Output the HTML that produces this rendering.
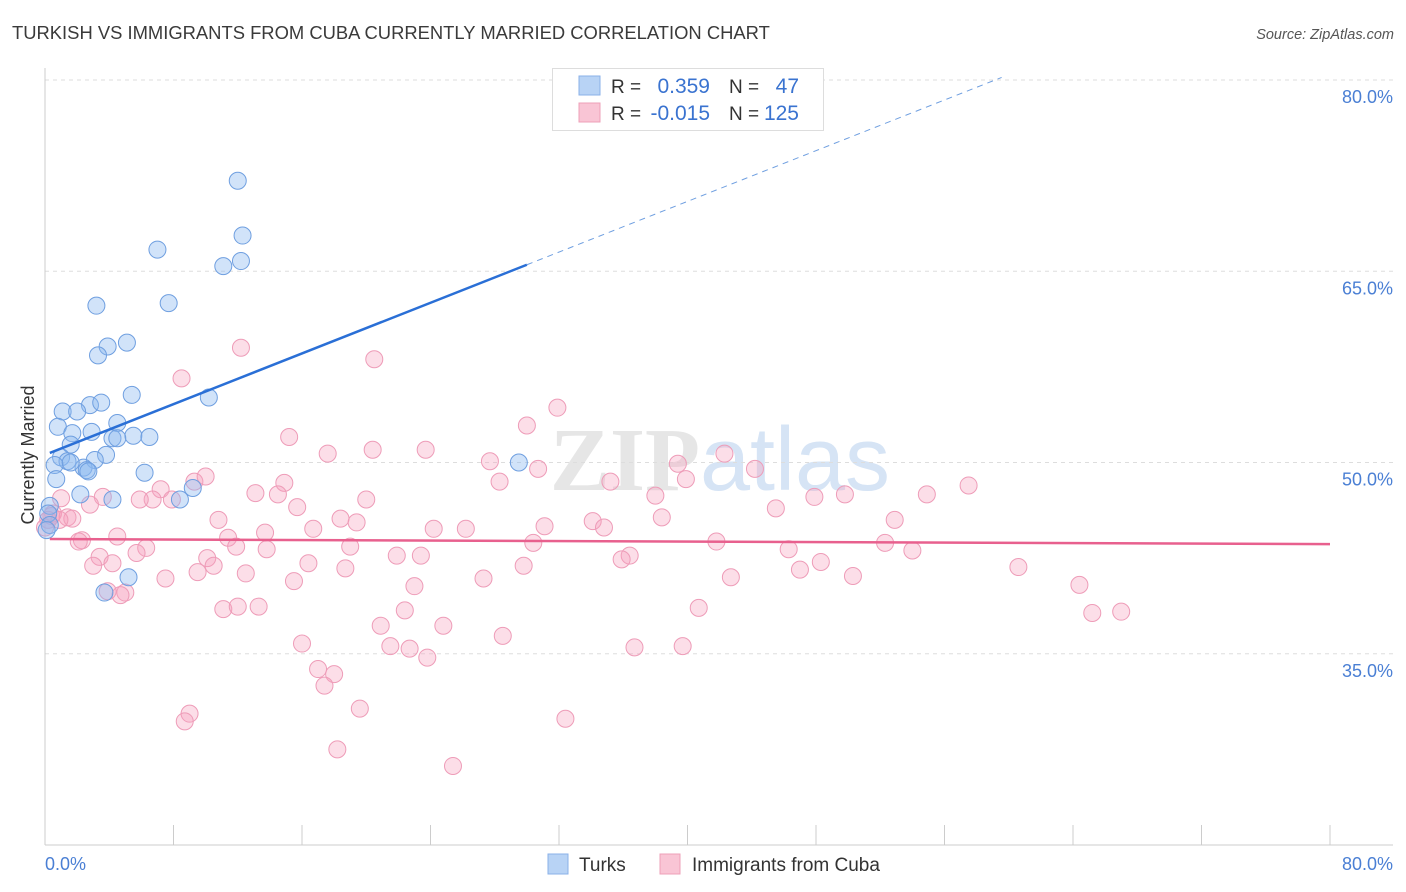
<!DOCTYPE html>
<html><head><meta charset="utf-8"><style>
body{margin:0;background:#fff;font-family:"Liberation Sans",sans-serif;}
svg{display:block}
</style></head><body>
<svg id="chart" width="1406" height="892" xmlns="http://www.w3.org/2000/svg">
<text x="12" y="39" font-size="18.4" fill="#3a3a3a">TURKISH VS IMMIGRANTS FROM CUBA CURRENTLY MARRIED CORRELATION CHART</text>
<text x="1394" y="39" font-size="14.5" fill="#555" font-style="italic" text-anchor="end">Source: ZipAtlas.com</text>
<text x="720" y="490" font-size="90" fill="#e6e6e6" text-anchor="middle" font-family="Liberation Serif,serif" font-weight="bold">ZIP<tspan fill="#d6e4f5" font-family="Liberation Sans,sans-serif" font-weight="normal">atlas</tspan></text>
<g id="grid"></g>
<g id="axes"></g>
<g id="pts"></g>
<g id="lines"></g>
<text transform="translate(34,455) rotate(-90)" font-size="18" fill="#333" text-anchor="middle">Currently Married</text>
<text x="45" y="870" font-size="18" fill="#4a7fd4">0.0%</text>
<text x="1393" y="870" font-size="18" fill="#4a7fd4" text-anchor="end">80.0%</text>
<g>
<rect x="552.5" y="68.5" width="271" height="62" fill="#fff" stroke="#ddd"/>
<rect x="579" y="76" width="21" height="19" fill="#b8d3f5" stroke="#8ab0e8"/>
<rect x="579" y="103" width="21" height="19" fill="#f9c5d5" stroke="#eea0b8"/>
<text x="611" y="93" font-size="19" fill="#333">R = </text><text x="710" y="93" font-size="21" fill="#3a73d0" text-anchor="end">0.359</text>
<text x="729" y="93" font-size="19" fill="#333">N = </text><text x="799" y="93" font-size="21" fill="#3a73d0" text-anchor="end">47</text>
<text x="611" y="120" font-size="19" fill="#333">R = </text><text x="710" y="120" font-size="21" fill="#3a73d0" text-anchor="end">-0.015</text>
<text x="729" y="120" font-size="19" fill="#333">N = </text><text x="799" y="120" font-size="21" fill="#3a73d0" text-anchor="end">125</text>
</g>
<g>
<rect x="548" y="854" width="20" height="20" fill="#b8d3f5" stroke="#8ab0e8"/>
<text x="579" y="871" font-size="19" fill="#333">Turks</text>
<rect x="660" y="854" width="20" height="20" fill="#f9c5d5" stroke="#eea0b8"/>
<text x="692" y="871" font-size="19" fill="#333">Immigrants from Cuba</text>
</g>
</svg>
<script>
const yTicks=[35,50,65,80];
const xTickVals=[0,8,16,24,32,40,48,56,64,72,80];
const turksX=[12.0,12.3,7.0,12.2,11.1,3.2,7.7,5.1,3.9,3.3,10.2,5.4,2.8,3.5,1.1,2.0,4.5,0.8,2.9,1.7,5.5,6.5,4.2,4.5,1.6,3.8,1.0,3.1,1.4,0.6,2.4,2.6,2.7,6.2,0.7,29.5,9.2,8.4,2.2,4.2,0.3,0.2,0.3,0.1,5.2,3.7,1.6];
const turksY=[72.1,67.8,66.7,65.8,65.4,62.3,62.5,59.4,59.1,58.4,55.1,55.3,54.5,54.7,54.0,54.0,53.1,52.8,52.4,52.3,52.1,52.0,51.9,51.9,51.4,50.6,50.4,50.2,50.1,49.8,49.6,49.4,49.3,49.2,48.7,50.0,48.0,47.1,47.5,47.1,46.6,46.0,45.1,44.7,41.0,39.8,50.0];
const cubaX=[12.2,20.5,8.5,31.9,30.0,15.2,23.7,17.6,20.4,42.3,27.7,39.4,30.7,44.2,39.9,35.2,57.5,28.3,14.9,9.3,10.0,7.2,13.1,14.5,20.0,38.0,47.9,49.8,54.9,15.7,6.7,7.9,3.6,1.0,45.5,38.4,0.5,1.4,1.7,34.1,34.8,31.1,52.9,18.4,19.4,10.8,24.2,26.2,16.7,13.7,4.5,11.4,6.3,2.3,2.1,11.9,19.0,13.8,30.4,41.8,52.3,46.3,54.0,3.4,5.7,10.1,4.2,21.9,23.4,36.4,35.9,48.3,3.0,16.4,18.7,29.8,47.0,60.6,10.5,9.5,12.5,7.5,15.5,27.3,42.7,50.3,23.0,64.4,5.0,3.9,4.7,11.1,12.0,13.3,22.4,40.7,65.2,67.0,20.9,24.8,28.5,21.5,22.7,16.0,23.8,36.7,39.7,17.0,18.0,17.4,19.6,9.0,8.7,32.4,18.2,25.4,0.0,0.4,0.2,5.9,2.8,0.9];
const cubaY=[59.0,58.1,56.6,54.3,52.9,52.0,51.0,50.7,51.0,50.7,50.1,49.9,49.5,49.5,48.7,48.5,48.2,48.5,48.4,48.5,48.9,47.9,47.6,47.5,47.1,47.4,47.3,47.5,47.5,46.5,47.1,47.1,47.3,47.2,46.4,45.7,46.0,45.7,45.6,45.4,44.9,45.0,45.5,45.6,45.3,45.5,44.8,44.8,44.8,44.5,44.2,44.1,43.3,43.9,43.8,43.4,43.4,43.2,43.7,43.8,43.7,43.2,43.1,42.6,42.9,42.5,42.1,42.7,42.7,42.7,42.4,42.2,41.9,42.1,41.7,41.9,41.6,41.8,41.9,41.4,41.3,40.9,40.7,40.9,41.0,41.1,40.3,40.4,39.8,39.9,39.6,38.5,38.7,38.7,38.4,38.6,38.2,38.3,37.2,37.2,36.4,35.6,35.4,35.8,34.7,35.5,35.6,33.8,33.4,32.5,30.7,30.3,29.7,29.9,27.5,26.2,44.9,45.8,45.5,47.1,46.7,45.5];
const turksFit=[50.6,0.497];
const cubaFit=[44.0,-0.005];
const NS='http://www.w3.org/2000/svg';
const X=v=>45+v*16.0625;
const Y=v=>80+(80-v)*12.75;
function mk(tag,attrs,parent){const e=document.createElementNS(NS,tag);for(const k in attrs)e.setAttribute(k,attrs[k]);parent.appendChild(e);return e;}
const grid=document.getElementById('grid'),axes=document.getElementById('axes'),pts=document.getElementById('pts'),lines=document.getElementById('lines');
yTicks.forEach(t=>{
 const l=mk('line',{x1:45,x2:1393,y1:Y(t),y2:Y(t),stroke:'#ddd','stroke-dasharray':'4,4'},grid);
 
 
 const tx=mk('text',{x:1393,y:Y(t)+23,'font-size':18,fill:'#4a7fd4','text-anchor':'end'},grid);
 tx.textContent=t.toFixed(1)+'%';
 
 
});
const ya=mk('line',{x1:45,x2:45,y1:68,y2:845,stroke:'#ccc'},axes);


const xa=mk('line',{x1:45,x2:1393,y1:845,y2:845,stroke:'#ccc'},axes);


xTickVals.forEach(t=>{
 const l=mk('line',{x1:X(t),x2:X(t),y1:825,y2:845,stroke:'#ccc'},axes);
 
 
});
cubaX.forEach((v,i)=>{
 const c=mk('circle',{cx:X(v),cy:Y(cubaY[i]),r:8.5,fill:'rgba(245,160,190,0.35)',stroke:'#ee9cb8','stroke-width':1},pts);
 
 
});
turksX.forEach((v,i)=>{
 const c=mk('circle',{cx:X(v),cy:Y(turksY[i]),r:8.5,fill:'rgba(140,185,240,0.4)',stroke:'#6f9fe0','stroke-width':1},pts);
 
 
});
const tl=mk('line',{x1:X(0.3),y1:Y(turksFit[0]+turksFit[1]*0.3),x2:X(30),y2:Y(turksFit[0]+turksFit[1]*30),stroke:'#2a6fd6','stroke-width':2.5},lines);


const xe=(80.2-turksFit[0])/turksFit[1];
const td=mk('line',{x1:X(30),y1:Y(turksFit[0]+turksFit[1]*30),x2:X(xe),y2:Y(turksFit[0]+turksFit[1]*xe),stroke:'#6f9fe0','stroke-width':1,'stroke-dasharray':'6,5'},lines);


const cl=mk('line',{x1:X(0.3),y1:Y(cubaFit[0]+cubaFit[1]*0.3),x2:X(80),y2:Y(cubaFit[0]+cubaFit[1]*80),stroke:'#e8608e','stroke-width':2.5},lines);


</script>
</body></html>
